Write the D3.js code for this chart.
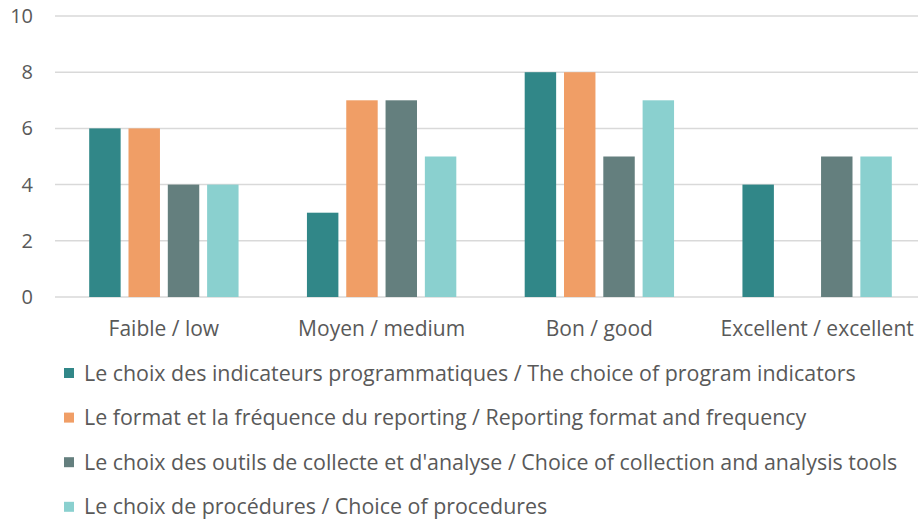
<!DOCTYPE html>
<html>
<head>
<meta charset="utf-8">
<script src="https://cdn.jsdelivr.net/npm/d3@7"></script>
<style>
  body { margin: 0; background: #fff; }
  svg { display: block; font-family: 'Open Sans', sans-serif; }
</style>
</head>
<body>
<div id="chart"></div>
<script>
// categories and series
let categories = ['Faible / low', 'Moyen / medium', 'Bon / good', 'Excellent / excellent'];
let seriesNames = [
  'Le choix des indicateurs programmatiques / The choice of program indicators',
  'Le format et la fréquence du reporting / Reporting format and frequency',
  "Le choix des outils de collecte et d'analyse / Choice of collection and analysis tools",
  'Le choix de procédures / Choice of procedures'
];
let indicateurs = [6, 3, 8, 4];
let reporting = [6, 7, 8, 0];
let outils = [4, 7, 5, 5];
let procedures = [4, 5, 7, 5];
let yTicks = [0, 2, 4, 6, 8, 10];
let colors = ['#318788', '#f09e66', '#647f7e', '#8ad0cf'];

let width = 918;
let height = 522;
let series = [indicateurs, reporting, outils, procedures];

let svg = d3.select('#chart').append('svg')
  .attr('width', width)
  .attr('height', height);

let x = d3.scaleBand()
  .domain(categories)
  .range([55, 926])
  .paddingInner(0)
  .paddingOuter(0);

let xInner = d3.scaleBand()
  .domain(d3.range(series.length))
  .range([0, x.bandwidth()])
  .paddingInner(0.2)
  .paddingOuter(0.87);

let y = d3.scaleLinear()
  .domain([0, 10])
  .range([297, 16]);

// gridlines
svg.append('g')
  .selectAll('line')
  .data(yTicks)
  .join('line')
  .attr('x1', 55)
  .attr('x2', width)
  .attr('y1', d => y(d))
  .attr('y2', d => y(d))
  .attr('stroke', '#d9d9d9')
  .attr('stroke-width', 1.5);

// y axis labels
svg.append('g')
  .selectAll('text')
  .data(yTicks)
  .join('text')
  .attr('x', 33)
  .attr('y', d => y(d))
  .attr('dy', '0.35em')
  .attr('text-anchor', 'end')
  .attr('fill', '#595959')
  .style('font-size', '20px')
  .text(d => d);

// bars
let groups = svg.append('g')
  .selectAll('g')
  .data(categories)
  .join('g')
  .attr('transform', d => 'translate(' + x(d) + ',0)');

groups.selectAll('rect')
  .data((c, ci) => series.map((s, si) => ({ si: si, v: s[ci] })))
  .join('rect')
  .attr('x', d => xInner(d.si))
  .attr('width', xInner.bandwidth())
  .attr('y', d => y(d.v))
  .attr('height', d => y(0) - y(d.v))
  .attr('fill', d => colors[d.si]);

// category labels
svg.append('g')
  .selectAll('text')
  .data(categories)
  .join('text')
  .attr('x', d => x(d) + x.bandwidth() / 2)
  .attr('y', 329)
  .attr('dy', '0.35em')
  .attr('text-anchor', 'middle')
  .attr('fill', '#595959')
  .style('font-size', '21px')
  .text(d => d);

// legend
let legend = svg.append('g')
  .selectAll('g')
  .data(seriesNames)
  .join('g')
  .attr('transform', (d, i) => 'translate(64,' + (373 + i * 44.6) + ')');

legend.append('rect')
  .attr('x', 0)
  .attr('y', -5)
  .attr('width', 10)
  .attr('height', 10)
  .attr('fill', (d, i) => colors[i]);

legend.append('text')
  .attr('x', 20)
  .attr('dy', '0.35em')
  .attr('fill', '#595959')
  .style('font-size', '21.4px')
  .text(d => d);
</script>
</body>
</html>
